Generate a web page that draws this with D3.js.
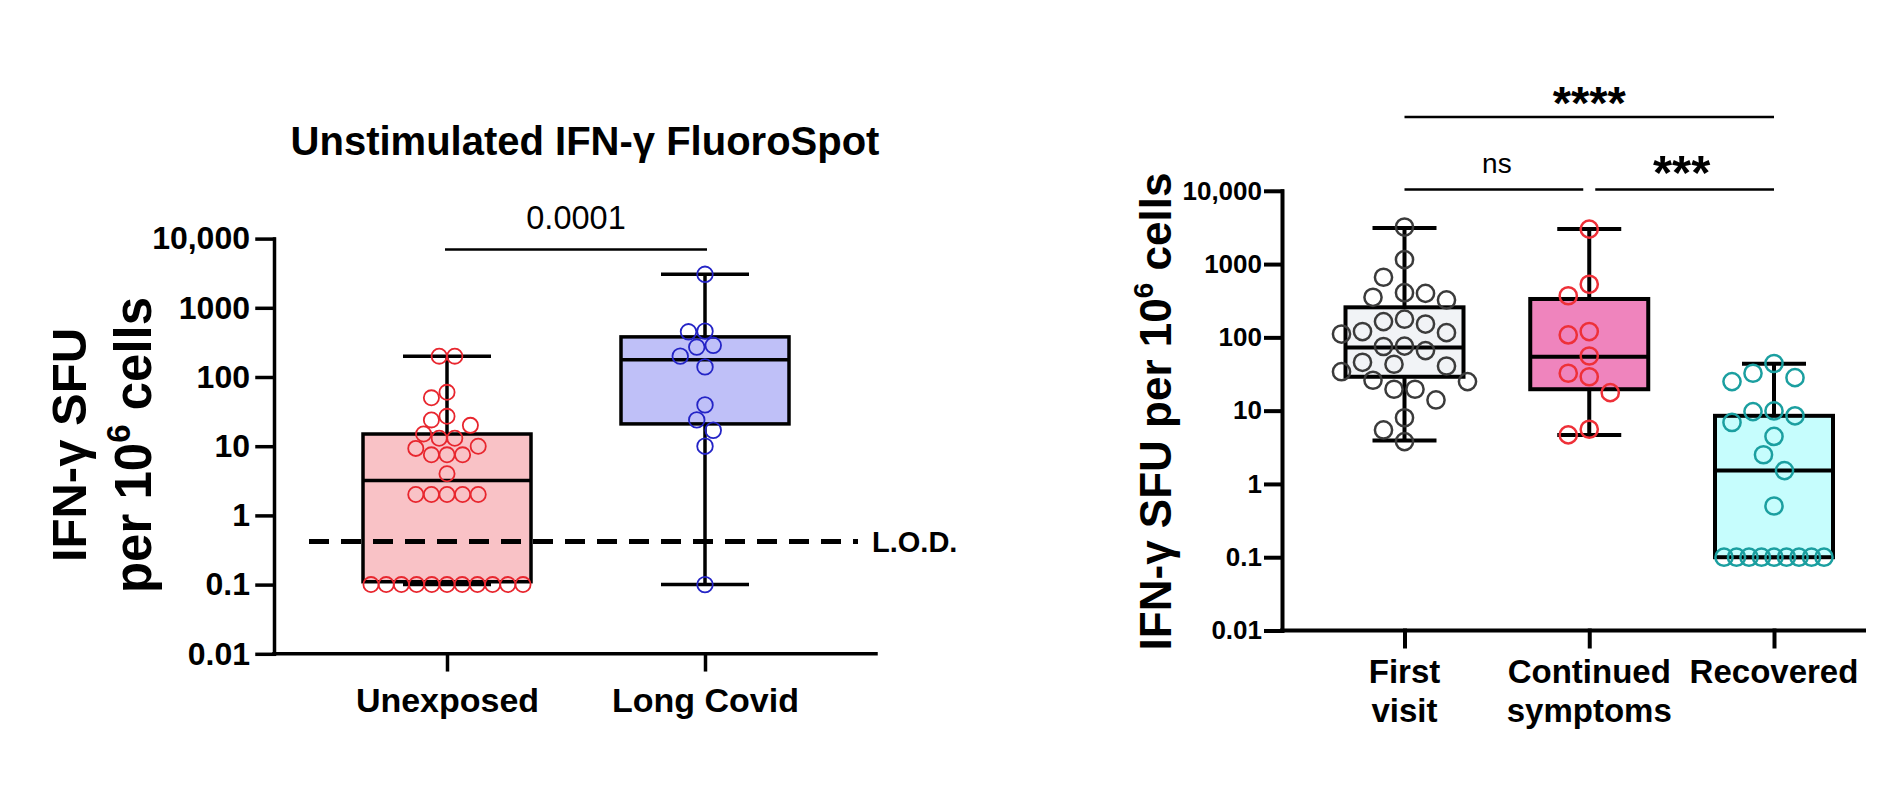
<!DOCTYPE html>
<html><head><meta charset="utf-8">
<script src="https://cdn.jsdelivr.net/npm/d3@7"></script>
<style>
body{margin:0;background:#fff}
svg{display:block}
text{font-family:"Liberation Sans",Arial,Helvetica,sans-serif;fill:#000}
</style>
</head><body>
<svg id="c" width="1902" height="808"></svg>
<script>
// ---------- shared ----------
const tickValues = [0.01, 0.1, 1, 10, 100, 1000, 10000];
const tickLabels = ["0.01", "0.1", "1", "10", "100", "1000", "10,000"];

// ---------- left panel data ----------
const leftTitle = "Unstimulated IFN-γ FluoroSpot";
const leftCategories = ["Unexposed", "Long Covid"];
const unexposedValues = [200, 200, 60, 50, 27, 24, 20, 15, 13, 13, 10, 9.3, 7.5, 7.5, 7.5, 4,
  2, 2, 2, 2, 2, 0.1, 0.1, 0.1, 0.1, 0.1, 0.1, 0.1, 0.1, 0.1, 0.1, 0.1];
const longCovidValues = [3050, 450, 460, 271, 287, 200, 140, 39.5, 24, 17, 10, 0.1];
const leftMin = [0.1, 0.1];
const leftQ1 = [0.11, 21];
const leftMedian = [3.2, 178];
const leftQ3 = [15, 380];
const leftMax = [200, 3050];
const lodValue = 0.42;
const leftPValue = "0.0001";

// ---------- right panel data ----------
const rightCategories = [["First", "visit"], ["Continued", "symptoms"], ["Recovered"]];
const firstVisitValues = [3200, 1150, 661, 324, 352, 398, 407, 152, 177, 164, 116, 111, 120, 66, 76, 75,
  43, 40.7, 45.7, 34, 24.9, 26, 19.6, 19.6, 14, 8, 5.45, 3.78];
const continuedValues = [3000, 530, 370, 120, 108, 55.7, 32.4, 29, 17.6, 5.57, 4.67];
const recoveredValues = [44, 32.4, 28.2, 24.9, 9.7, 9.9, 6.9, 8.5, 4.45, 2.5, 1.52, 0.5,
  0.1, 0.1, 0.1, 0.1, 0.1, 0.1, 0.1, 0.1, 0.1];
const rightMin = [3.9, 4.67, 0.1];
const rightQ1 = [29, 19.6, 0.1];
const rightMedian = [73, 54.6, 1.52];
const rightQ3 = [257, 334, 8.5];
const rightMax = [3100, 3000, 43.5];
const rightComparisons = [["First", "Recovered", "****"], ["First", "Continued", "ns"], ["Continued", "Recovered", "***"]];

// ---------- drawing ----------
const svg = d3.select("#c");

function swarm(values, y, step, maxHalf) {
  const pts = values.map(v => ({ v, py: y(v), dx: null }));
  const placed = [];
  const minD = step * 0.98;
  const collide = (p, dx) => placed.some(q => Math.hypot(q.dx - dx, q.py - p.py) < minD);
  const groups = d3.groups(pts, d => d.v).filter(g => g[1].length >= 2)
    .sort((a, b) => b[1].length - a[1].length);
  groups.forEach(([v, arr]) => {
    const n = arr.length;
    const sp = Math.min(step, (2 * maxHalf) / (n - 1));
    const offs = arr.map((p, i) => (i - (n - 1) / 2) * sp);
    if (arr.every((p, i) => !collide(p, offs[i]))) {
      arr.forEach((p, i) => { p.dx = offs[i]; });
      arr.forEach(p => placed.push(p));
    }
  });
  const rest = pts.filter(p => p.dx === null).sort((a, b) => a.py - b.py);
  const cands = [0];
  for (let k = 1; k < 40; k++) cands.push(-k * step / 2, k * step / 2);
  rest.forEach(p => {
    for (const c of cands) { if (!collide(p, c)) { p.dx = c; placed.push(p); break; } }
  });
  return pts;
}

function styleAxis(g, fs, sw) {
  g.selectAll("path,line").attr("stroke", "#000").attr("stroke-width", sw).attr("stroke-linecap", "square");
  g.selectAll("text").attr("font-size", fs).attr("font-weight", "bold").attr("fill", "#000")
    .style("font-family", '"Liberation Sans",Arial,sans-serif');
}

function drawBoxes(g, xs, cats, y, stats, boxW, capW, sw, fills) {
  cats.forEach((c, i) => {
    const cx = xs(c);
    g.append("line").attr("x1", cx).attr("x2", cx).attr("y1", y(stats.max[i])).attr("y2", y(stats.min[i]))
      .attr("stroke", "#000").attr("stroke-width", sw);
    [stats.max[i], stats.min[i]].forEach(v => {
      g.append("line").attr("x1", cx - capW / 2).attr("x2", cx + capW / 2).attr("y1", y(v)).attr("y2", y(v))
        .attr("stroke", "#000").attr("stroke-width", sw);
    });
    g.append("rect").attr("x", cx - boxW / 2).attr("width", boxW)
      .attr("y", y(stats.q3[i])).attr("height", y(stats.q1[i]) - y(stats.q3[i]))
      .attr("fill", fills[i]).attr("stroke", "#000").attr("stroke-width", sw);
    g.append("line").attr("x1", cx - boxW / 2).attr("x2", cx + boxW / 2)
      .attr("y1", y(stats.median[i])).attr("y2", y(stats.median[i]))
      .attr("stroke", "#000").attr("stroke-width", sw);
  });
}

function drawPoints(g, cx, y, values, step, maxHalf, r, color, sw) {
  const pts = swarm(values, y, step, maxHalf);
  g.selectAll(null).data(pts).enter().append("circle")
    .attr("cx", d => cx + d.dx).attr("cy", d => d.py).attr("r", r)
    .attr("fill", "none").attr("stroke", color).attr("stroke-width", sw);
}

// ===== LEFT PANEL =====
{
  const axisX = 274, axisRight = 876;
  const y = d3.scaleLog().domain([0.01, 10000]).range([653.8, 238.6]);
  const x = d3.scalePoint().domain(leftCategories).range([447, 705]);
  const g = svg.append("g");

  g.append("text").attr("x", 585).attr("y", 155).attr("text-anchor", "middle")
    .attr("font-size", 40).attr("font-weight", "bold").text(leftTitle);

  const gy = g.append("g").attr("transform", `translate(${axisX},0)`)
    .call(d3.axisLeft(y).tickValues(tickValues).tickFormat((d, i) => tickLabels[i])
      .tickSize(17).tickSizeOuter(0).tickPadding(7));
  styleAxis(gy, 32, 3.5);

  const gx = g.append("g").attr("transform", `translate(0,${y(0.01)})`)
    .call(d3.axisBottom(x).tickSize(16).tickSizeOuter(0).tickPadding(18));
  gx.select(".domain").remove();
  gx.append("line").attr("x1", axisX).attr("x2", axisRight).attr("y1", 0).attr("y2", 0);
  styleAxis(gx, 34, 3.5);

  drawBoxes(g, x, leftCategories, y,
    { min: leftMin, q1: leftQ1, median: leftMedian, q3: leftQ3, max: leftMax },
    168, 88, 3.5, ["#f9c2c6", "#bfc0f8"]);

  g.append("line").attr("x1", 309).attr("x2", 858).attr("y1", y(lodValue)).attr("y2", y(lodValue))
    .attr("stroke", "#000").attr("stroke-width", 5).attr("stroke-dasharray", "20,12");
  g.append("text").attr("x", 872).attr("y", y(lodValue) + 11).attr("font-size", 29)
    .attr("font-weight", "bold").text("L.O.D.");

  drawPoints(g, x("Unexposed"), y, unexposedValues, 15.6, 76, 7.6, "#e8262e", 1.8);
  drawPoints(g, x("Long Covid"), y, longCovidValues, 16.5, 76, 7.8, "#2424c6", 1.8);

  g.append("line").attr("x1", x("Unexposed") - 2).attr("x2", x("Long Covid") + 2).attr("y1", 249.6).attr("y2", 249.6)
    .attr("stroke", "#000").attr("stroke-width", 2.5);
  g.append("text").attr("x", (x("Unexposed") + x("Long Covid")) / 2).attr("y", 228.5)
    .attr("text-anchor", "middle").attr("font-size", 32.5).text(leftPValue);

  g.append("text").attr("transform", "translate(86,445) rotate(-90)").attr("text-anchor", "middle")
    .attr("font-size", 49).attr("font-weight", "bold").text("IFN-γ SFU");
  const t2 = g.append("text").attr("transform", "translate(151,445) rotate(-90)").attr("text-anchor", "middle")
    .attr("font-size", 51).attr("font-weight", "bold");
  t2.append("tspan").text("per 10");
  t2.append("tspan").attr("dy", -21).attr("font-size", 33).text("6");
  t2.append("tspan").attr("dy", 21).text(" cells");
}

// ===== RIGHT PANEL =====
{
  const axisX = 1282, axisRight = 1864;
  const y = d3.scaleLog().domain([0.01, 10000]).range([630.5, 190.8]);
  const keys = rightCategories.map(c => c[0]);
  const x = d3.scalePoint().domain(keys).range([1404.5, 1774]);
  const g = svg.append("g");

  const gy = g.append("g").attr("transform", `translate(${axisX},0)`)
    .call(d3.axisLeft(y).tickValues(tickValues).tickFormat((d, i) => tickLabels[i])
      .tickSize(16).tickSizeOuter(0).tickPadding(4));
  styleAxis(gy, 26, 4);

  const gx = g.append("g").attr("transform", `translate(0,${y(0.01)})`)
    .call(d3.axisBottom(x).tickSize(16).tickSizeOuter(0).tickFormat(""));
  gx.select(".domain").remove();
  gx.append("line").attr("x1", axisX).attr("x2", axisRight).attr("y1", 0).attr("y2", 0);
  styleAxis(gx, 33, 4);
  rightCategories.forEach(lines => {
    const t = g.append("text").attr("text-anchor", "middle").attr("font-size", 33).attr("font-weight", "bold");
    lines.forEach((ln, i) => t.append("tspan").attr("x", x(lines[0])).attr("y", 683 + i * 38.5).text(ln));
  });

  drawBoxes(g, x, keys, y,
    { min: rightMin, q1: rightQ1, median: rightMedian, q3: rightQ3, max: rightMax },
    118, 64, 4, ["#f1f3f6", "#ef84bd", "#c6fdfd"]);

  drawPoints(g, x("First"), y, firstVisitValues, 21, 50, 8.6, "#3b3b3b", 2.5);
  drawPoints(g, x("Continued"), y, continuedValues, 21, 50, 8.6, "#ee3038", 2.5);
  drawPoints(g, x("Recovered"), y, recoveredValues, 21, 50, 8.6, "#1b9fa0", 2.5);

  const bars = [
    { yb: 117, yt: 119, fs: 47, bold: true },
    { yb: 189.5, yt: 172.5, fs: 28, bold: false },
    { yb: 189.5, yt: 189, fs: 49, bold: true }
  ];
  rightComparisons.forEach((c, i) => {
    const s = bars[i];
    let x1 = x(c[0]), x2 = x(c[1]);
    if (c[0] === "Continued") x1 += 6;
    if (c[1] === "Continued") x2 -= 6;
    g.append("line").attr("x1", x1).attr("x2", x2).attr("y1", s.yb).attr("y2", s.yb)
      .attr("stroke", "#000").attr("stroke-width", 2.6);
    g.append("text").attr("x", (x(c[0]) + x(c[1])) / 2).attr("y", s.yt).attr("text-anchor", "middle")
      .attr("font-size", s.fs).attr("font-weight", s.bold ? "bold" : "normal").text(c[2]);
  });

  const t = g.append("text").attr("transform", "translate(1171,411.5) rotate(-90)").attr("text-anchor", "middle")
    .attr("font-size", 44).attr("font-weight", "bold");
  t.append("tspan").text("IFN-γ SFU per 10");
  t.append("tspan").attr("dy", -18).attr("font-size", 28).text("6");
  t.append("tspan").attr("dy", 18).text(" cells");
}
</script>
</body></html>
